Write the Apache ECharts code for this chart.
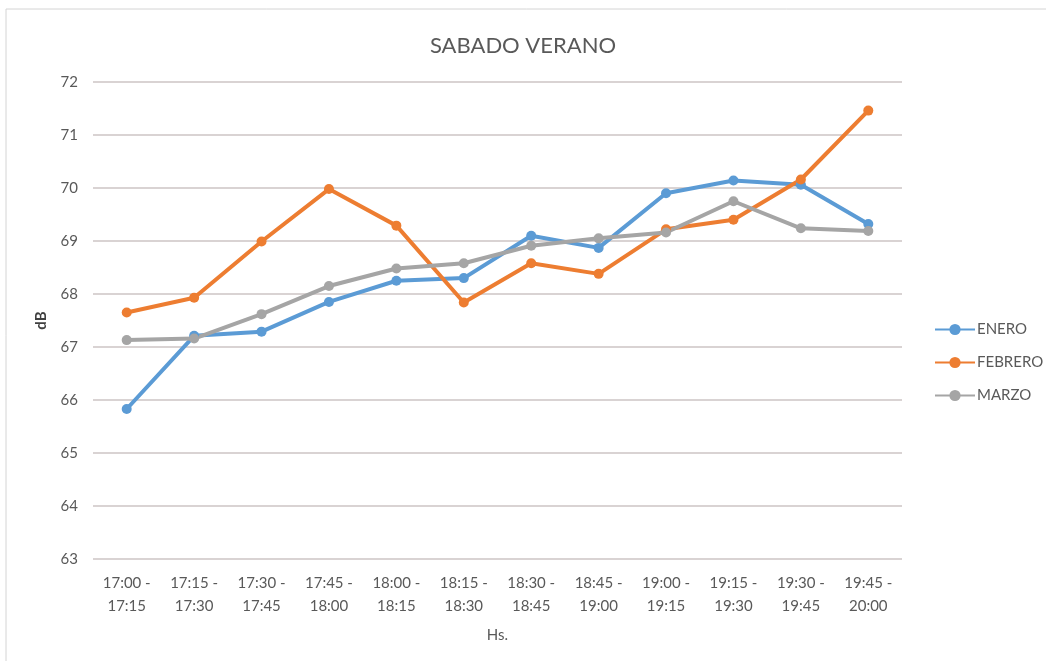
<!DOCTYPE html>
<html>
<head>
<meta charset="utf-8">
<script src="https://cdn.jsdelivr.net/npm/echarts@6/dist/echarts.min.js"></script>
<style>
    html, body { margin: 0; padding: 0; background: #fff; }
    #chart { width: 1046px; height: 661px; }
</style>
</head>
<body>
<div id="chart"></div>
<script>
    //horarios (eje x)
    var categorias = ['17:00 -\n17:15', '17:15 -\n17:30', '17:30 -\n17:45', '17:45 -\n18:00',
        '18:00 -\n18:15', '18:15 -\n18:30', '18:30 -\n18:45', '18:45 -\n19:00',
        '19:00 -\n19:15', '19:15 -\n19:30', '19:30 -\n19:45', '19:45 -\n20:00'];

    //valores dB por mes
    var enero = [65.83, 67.21, 67.29, 67.85, 68.25, 68.30, 69.10, 68.87, 69.90, 70.14, 70.06, 69.32];
    var febrero = [67.65, 67.93, 68.99, 69.98, 69.29, 67.84, 68.58, 68.38, 69.22, 69.40, 70.16, 71.46];
    var marzo = [67.13, 67.16, 67.62, 68.15, 68.48, 68.58, 68.91, 69.05, 69.16, 69.75, 69.24, 69.19];

    var fuente = 'Lato, "Open Sans", sans-serif';
    var gris = '#595959';

    function serie(nombre, datos, color) {
        return {
            name: nombre,
            type: 'line',
            data: datos,
            symbol: 'circle',
            symbolSize: 10,
            lineStyle: { width: 4, color: color },
            itemStyle: { color: color },
            emphasis: { disabled: true }
        };
    }

    var myChart = echarts.init(document.getElementById('chart'));

    var option = {
        animation: false,
        textStyle: { fontFamily: fuente },
        title: {
            text: 'SABADO VERANO',
            left: 'center',
            top: 30,
            textStyle: { fontFamily: fuente, fontSize: 22, fontWeight: 'normal', color: gris }
        },
        graphic: [{
            type: 'rect',
            shape: { x: 6, y: 9, width: 1100, height: 700 },
            style: { fill: 'none', stroke: '#d4d4d4', lineWidth: 1 },
            silent: true
        }],
        legend: {
            orient: 'vertical',
            left: 929,
            top: 317,
            itemGap: 18,
            itemWidth: 40,
            itemHeight: 14,
            textStyle: { fontFamily: fuente, fontSize: 15, color: gris, padding: [0, 0, 0, -3] },
            data: ['ENERO', 'FEBRERO', 'MARZO']
        },
        grid: {
            left: 93,
            right: 144,
            top: 82,
            bottom: 102,
            containLabel: false
        },
        xAxis: {
            type: 'category',
            data: categorias,
            boundaryGap: true,
            name: 'Hs.',
            nameLocation: 'middle',
            nameGap: 69,
            nameTextStyle: { fontFamily: fuente, fontSize: 15, color: gris },
            axisLine: { show: false },
            axisTick: { show: false },
            axisLabel: { fontFamily: fuente, fontSize: 15, color: gris, margin: 13, lineHeight: 23, interval: 0 }
        },
        yAxis: {
            type: 'value',
            min: 63,
            max: 72,
            interval: 1,
            name: 'dB',
            nameLocation: 'middle',
            nameGap: 44,
            nameTextStyle: { fontFamily: fuente, fontSize: 15, fontWeight: 'bold', color: '#404040' },
            axisLine: { show: false },
            axisTick: { show: false },
            axisLabel: { fontFamily: fuente, fontSize: 15, color: gris, margin: 15 },
            splitLine: { lineStyle: { color: '#d9d3d3', width: 2 } }
        },
        series: [
            serie('ENERO', enero, '#5b9bd5'),
            serie('FEBRERO', febrero, '#ed7d31'),
            serie('MARZO', marzo, '#a5a5a5')
        ]
    };

    myChart.setOption(option);
</script>
</body>
</html>
